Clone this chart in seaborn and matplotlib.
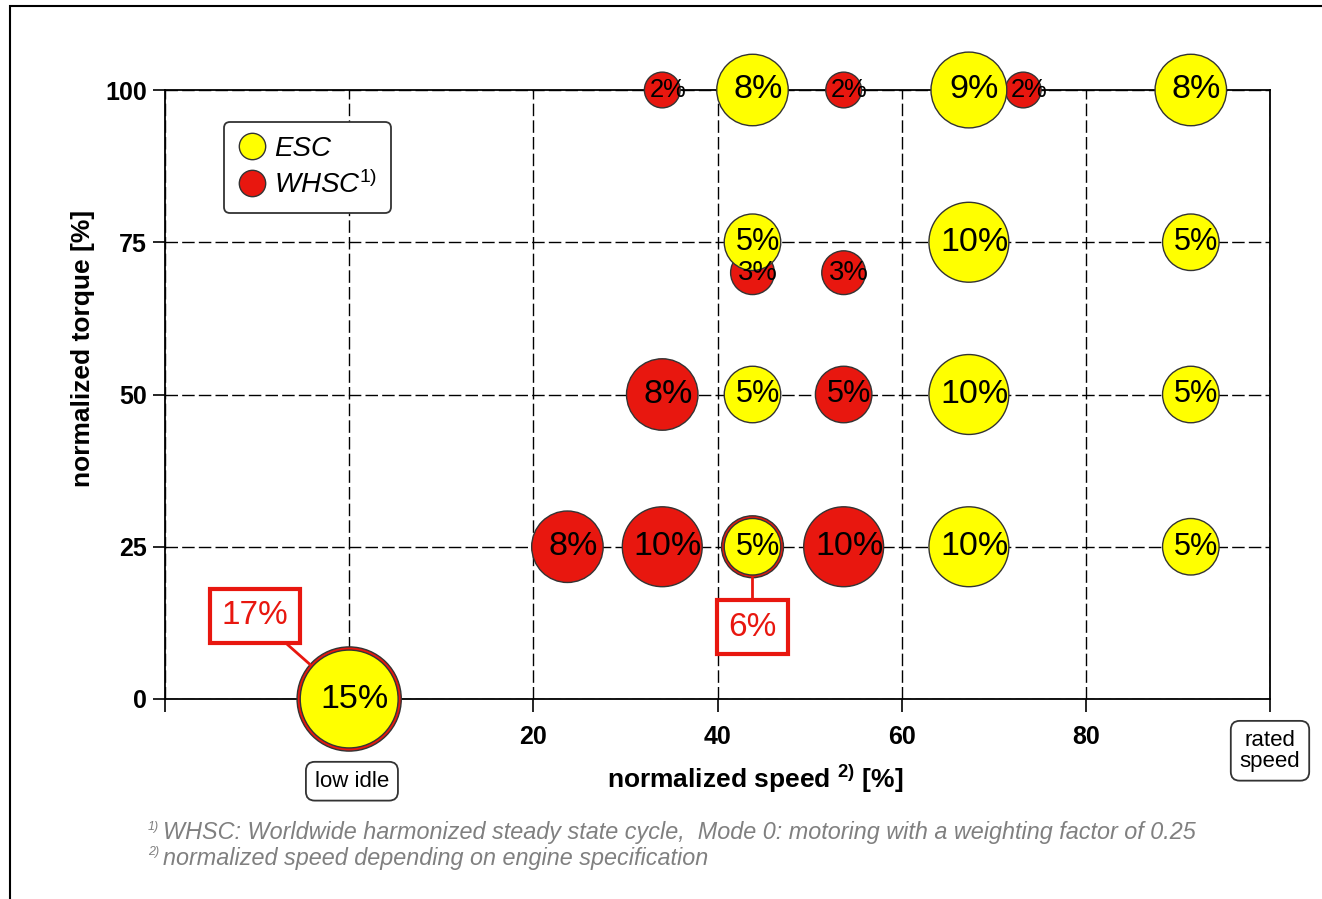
import numpy as np
import pandas as pd
import matplotlib.pyplot as plt
import seaborn as sns
from matplotlib.lines import Line2D

# ESC test points (speed %, torque %, weighting %)
esc_speed = [43.8, 67.3, 91.4, 43.8, 67.3, 91.4, 43.8, 67.3, 91.4, 43.8, 67.3, 91.4, 0.0]
esc_torque = [100, 100, 100, 75, 75, 75, 50, 50, 50, 25, 25, 25, 0]
esc_weight = [8, 9, 8, 5, 10, 5, 5, 10, 5, 5, 10, 5, 15]

# WHSC test points
whsc_speed = [0.0, 43.8, 23.7, 34.0, 53.7, 34.0, 53.7, 43.8, 53.7, 34.0, 53.7, 73.2]
whsc_torque = [0, 25, 25, 25, 25, 50, 50, 70, 70, 100, 100, 100]
whsc_weight = [17, 6, 8, 10, 10, 8, 5, 3, 3, 2, 2, 2]

x_ticks = [-20, 0, 20, 40, 60, 80, 100]
x_tick_labels = ['', '', '20', '40', '60', '80', '']
y_ticks = [0, 25, 50, 75, 100]

YELLOW = '#FFFF00'
RED = '#E8170F'
EDGE = '#333333'
SIZE_PER_PCT = 331  # marker area (pt^2) per percent

sns.set_theme(style='ticks')
plt.rcParams['font.family'] = ['Liberation Sans', 'DejaVu Sans']
plt.rcParams['mathtext.fontset'] = 'custom'
plt.rcParams['mathtext.rm'] = 'Liberation Sans'
plt.rcParams['mathtext.it'] = 'Liberation Sans:italic'
plt.rcParams['mathtext.bf'] = 'Liberation Sans:bold'
for key in ['text.color', 'axes.labelcolor', 'xtick.color', 'ytick.color']:
    plt.rcParams[key] = 'black'

df = pd.concat([
    pd.DataFrame({'speed': whsc_speed, 'torque': whsc_torque, 'weight': whsc_weight, 'cycle': 'WHSC'}),
    pd.DataFrame({'speed': esc_speed, 'torque': esc_torque, 'weight': esc_weight, 'cycle': 'ESC'}),
], ignore_index=True)

fig = plt.figure(figsize=(13.22, 8.99), dpi=100)
ax = fig.add_axes([165 / 1322, 1 - 699 / 899, (1270 - 165) / 1322, (699 - 90) / 899])

sns.scatterplot(data=df, x='speed', y='torque', hue='cycle',
                palette={'ESC': YELLOW, 'WHSC': RED},
                size='weight', sizes=(0, SIZE_PER_PCT * 17), size_norm=(0, 17),
                edgecolor=EDGE, linewidth=1.0, legend=False, clip_on=False,
                zorder=3, ax=ax)

# percentages on the bubbles, hidden WHSC points get a red call-out box
esc_pts = set(zip(esc_speed, esc_torque))
callout_offsets = [(-68, 60), (0, -58)]
k = 0
for sp, tq, w, cyc in df.itertuples(index=False):
    if cyc == 'WHSC' and (sp, tq) in esc_pts:
        r = np.sqrt(SIZE_PER_PCT * w) / 2
        ax.annotate(f'{w}%', xy=(sp, tq), xytext=callout_offsets[k], textcoords='offset points',
                    ha='center', va='center', fontsize=24, color=RED,
                    bbox=dict(boxstyle='square,pad=0.35', fc='white', ec=RED, lw=3),
                    arrowprops=dict(arrowstyle='-', color=RED, lw=2, shrinkA=0, shrinkB=r),
                    zorder=5, annotation_clip=False)
        k += 1
    else:
        fs = min(24.5, 12 + 4.5 * np.sqrt(w))
        ax.annotate(f'{w}%', xy=(sp, tq), xytext=(4, 0), textcoords='offset points',
                    ha='center', va='center', fontsize=fs, color='black',
                    zorder=4, annotation_clip=False)

ax.set_xlim(-20, 100)
ax.set_ylim(0, 100)
ax.set_xticks(x_ticks)
ax.set_xticklabels(x_tick_labels)
ax.set_yticks(y_ticks)
ax.set_axisbelow(True)
ax.grid(True, color='black', linestyle=(0, (9, 3)), linewidth=1.0)
for s in ax.spines.values():
    s.set_color('black')
    s.set_linewidth(1.3)
ax.tick_params(axis='both', direction='out', length=9, width=1.2, color='black',
               labelcolor='black', labelsize=18)
ax.tick_params(axis='x', pad=10)
ax.tick_params(axis='y', pad=4)
for lab in ax.get_xticklabels() + ax.get_yticklabels():
    lab.set_fontweight('bold')

ax.set_xlabel(r'normalized speed $^{\mathbf{2)}}$ [%]', fontsize=19, fontweight='bold', color='black')
ax.xaxis.set_label_coords(0.534, -0.105)
ax.set_ylabel('normalized torque [%]', fontsize=19, fontweight='bold', color='black')
ax.yaxis.set_label_coords(-0.063, 0.576)

# low idle / rated speed markers
box = dict(boxstyle='round,pad=0.4', fc='white', ec=EDGE, lw=1.3)
ax.annotate('low idle', xy=(0.3, -0.135), xycoords=('data', 'axes fraction'),
            ha='center', va='center', fontsize=16, bbox=box, annotation_clip=False)
ax.annotate('rated\nspeed', xy=(100, -0.085), xycoords=('data', 'axes fraction'),
            ha='center', va='center', fontsize=16, linespacing=1.0, bbox=box,
            annotation_clip=False)

# legend
handles = [Line2D([], [], ls='', marker='o', markersize=19, markerfacecolor=YELLOW,
                  markeredgecolor=EDGE, markeredgewidth=1.0),
           Line2D([], [], ls='', marker='o', markersize=19, markerfacecolor=RED,
                  markeredgecolor=EDGE, markeredgewidth=1.0)]
leg = ax.legend(handles, ['ESC', r'WHSC$^{1)}$'], loc='upper left',
                bbox_to_anchor=(0.0534, 0.947), borderaxespad=0,
                prop=dict(style='italic', size=20), handlelength=1.0,
                handletextpad=0.3, labelspacing=0.3, borderpad=0.5,
                frameon=True, fancybox=True, edgecolor=EDGE, framealpha=1)
leg.get_frame().set_linewidth(1.3)

# footnotes
grey = '#808080'
fig.text(148 / 1322, 1 - 827 / 899, '1)', fontsize=9, style='italic', color=grey, va='center')
fig.text(163 / 1322, 1 - 833 / 899,
         'WHSC: Worldwide harmonized steady state cycle,  Mode 0: motoring with a weighting factor of 0.25',
         fontsize=16.8, style='italic', color=grey, va='center')
fig.text(148 / 1322, 1 - 852 / 899, '2)', fontsize=9, style='italic', color=grey, va='center')
fig.text(163 / 1322, 1 - 858 / 899, 'normalized speed depending on engine specification',
         fontsize=16.8, style='italic', color=grey, va='center')

# outer frame
fig.patches.append(plt.Rectangle((10 / 1322, -0.02), 1.1, 1 - 6 / 899 + 0.02,
                                 transform=fig.transFigure, fill=False, ec='black', lw=1.5))

fig.savefig('out.png', dpi=100)
